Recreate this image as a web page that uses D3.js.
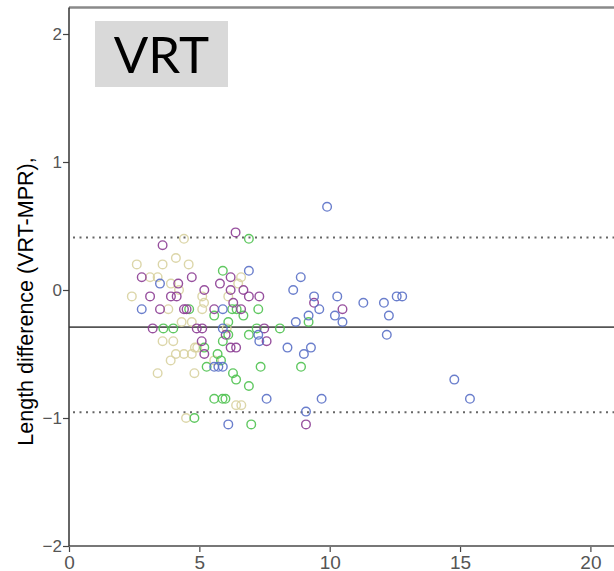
<!DOCTYPE html>
<html>
<head>
<meta charset="utf-8">
<script src="https://cdn.jsdelivr.net/npm/d3@7"></script>
<style>
  body { margin: 0; background: #fff; }
  svg { display: block; }
</style>
</head>
<body>
<script>
/* DATA */
// mean of the two methods (x) and difference VRT-MPR (y), one array per group
var blueX = [3.49, 2.79, 5.90, 6.90, 5.90, 7.26, 7.30, 5.57, 5.73, 5.90, 6.11, 8.89, 8.60, 9.40, 9.60, 8.70, 9.19, 10.29, 10.20, 10.49, 11.29, 12.08, 12.57, 12.78, 12.27, 12.19, 8.38, 9.28, 9.01, 7.58, 9.69, 9.09, 9.90, 14.78, 15.38];
var blueY = [0.05, -0.15, -0.15, 0.15, -0.30, -0.35, -0.40, -0.60, -0.60, -0.60, -1.05, 0.10, 0.00, -0.05, -0.15, -0.25, -0.20, -0.05, -0.20, -0.25, -0.10, -0.10, -0.05, -0.05, -0.20, -0.35, -0.45, -0.45, -0.50, -0.85, -0.85, -0.95, 0.65, -0.70, -0.85];

var purpleX = [6.39, 3.59, 2.79, 4.71, 6.20, 4.19, 5.79, 5.19, 6.20, 6.69, 3.11, 3.91, 4.13, 6.90, 7.30, 6.30, 3.49, 4.41, 4.51, 5.57, 6.60, 3.21, 4.90, 5.11, 6.01, 7.49, 5.09, 6.20, 6.41, 5.19, 7.58, 9.40, 10.49, 9.09];
var purpleY = [0.45, 0.35, 0.10, 0.10, 0.10, 0.05, 0.05, 0.00, 0.00, 0.00, -0.05, -0.05, -0.05, -0.05, -0.05, -0.10, -0.15, -0.15, -0.15, -0.15, -0.15, -0.30, -0.30, -0.30, -0.35, -0.30, -0.40, -0.45, -0.45, -0.50, -0.40, -0.10, -0.15, -1.05];

var greenX = [6.90, 5.90, 4.61, 6.26, 6.43, 7.26, 5.57, 6.69, 3.62, 4.00, 7.20, 8.09, 6.11, 6.90, 5.90, 5.19, 5.70, 5.83, 5.28, 7.35, 6.29, 6.41, 6.90, 5.57, 5.89, 6.00, 4.81, 6.99, 8.90, 9.19, 6.11];
var greenY = [0.40, 0.15, -0.15, -0.15, -0.15, -0.15, -0.20, -0.20, -0.30, -0.30, -0.30, -0.30, -0.35, -0.35, -0.40, -0.45, -0.50, -0.55, -0.60, -0.60, -0.65, -0.70, -0.75, -0.85, -0.85, -0.85, -1.00, -1.05, -0.60, -0.25, -0.25];

var khakiX = [4.41, 2.60, 3.59, 4.10, 4.59, 3.11, 3.40, 6.60, 3.91, 6.49, 4.22, 2.41, 5.11, 6.11, 5.18, 3.81, 5.11, 4.32, 4.71, 6.05, 3.59, 4.00, 4.83, 4.92, 4.10, 4.41, 4.71, 3.90, 5.57, 3.40, 4.81, 6.41, 6.61, 4.49];
var khakiY = [0.40, 0.20, 0.20, 0.25, 0.20, 0.10, 0.10, 0.10, 0.05, 0.05, 0.00, -0.05, -0.05, -0.05, -0.10, -0.15, -0.15, -0.25, -0.25, -0.30, -0.40, -0.40, -0.45, -0.45, -0.50, -0.50, -0.50, -0.55, -0.55, -0.65, -0.65, -0.90, -0.90, -1.00];

var meanDiff = -0.29;
var upperLoA = 0.41;
var lowerLoA = -0.955;

var xTicks = [0, 5, 10, 15, 20];
var yTicks = [-2, -1, 0, 1, 2];

/* CONSTANTS */
var width = 614, height = 571;
var plotLeft = 69, plotBottom = 546, plotTop = 34, frameTop = 7.5;

var x = d3.scaleLinear().domain([0, 22]).range([plotLeft, plotLeft + 26.07 * 22]);
var y = d3.scaleLinear().domain([-2, 2]).range([plotBottom, plotTop]);

var groups = [
  {xs: khakiX, ys: khakiY, color: "#d8d1a0"},
  {xs: greenX, ys: greenY, color: "#4fc250"},
  {xs: purpleX, ys: purpleY, color: "#8c3d94"},
  {xs: blueX, ys: blueY, color: "#5a70c6"}
];

var svg = d3.select("body").append("svg")
    .attr("width", width)
    .attr("height", height);

// frame: top line
svg.append("line")
    .attr("x1", plotLeft).attr("x2", width)
    .attr("y1", frameTop).attr("y2", frameTop)
    .attr("stroke", "#8a8a8a").attr("stroke-width", 2.5);

// reference lines
svg.append("line")
    .attr("x1", plotLeft).attr("x2", width)
    .attr("y1", y(meanDiff)).attr("y2", y(meanDiff))
    .attr("stroke", "#555").attr("stroke-width", 1.6);

[upperLoA, lowerLoA].forEach(function(v) {
  svg.append("line")
      .attr("x1", plotLeft + 4).attr("x2", width)
      .attr("y1", y(v)).attr("y2", y(v))
      .attr("stroke", "#666").attr("stroke-width", 2)
      .attr("stroke-dasharray", "2,4.5");
});

// points
groups.forEach(function(g) {
  svg.append("g").selectAll("circle")
    .data(g.xs.map(function(d, i) { return [d, g.ys[i]]; }))
    .enter().append("circle")
      .attr("cx", function(d) { return x(d[0]); })
      .attr("cy", function(d) { return y(d[1]); })
      .attr("r", 4.3)
      .attr("fill", "none")
      .attr("stroke", g.color)
      .attr("stroke-width", 1.4)
      .attr("stroke-opacity", 0.9);
});

// axes
var xAxis = svg.append("g")
    .attr("transform", "translate(0," + plotBottom + ")")
    .call(d3.axisBottom(x).tickValues(xTicks).tickSize(6).tickFormat(d3.format("d")));
xAxis.select(".domain").remove();
xAxis.append("line")
    .attr("x1", plotLeft).attr("x2", width)
    .attr("stroke", "#777").attr("stroke-width", 2.2);

var yAxis = svg.append("g")
    .attr("transform", "translate(" + plotLeft + ",0)")
    .call(d3.axisLeft(y).tickValues(yTicks).tickSize(6).tickFormat(d3.format("d")));
yAxis.select(".domain").remove();
yAxis.append("line")
    .attr("y1", frameTop).attr("y2", plotBottom)
    .attr("stroke", "#333").attr("stroke-width", 1.5);

svg.selectAll(".tick line").attr("stroke", "#444").attr("stroke-width", 1.2);
svg.selectAll(".tick text")
    .attr("fill", "#555")
    .style("font-family", "'Liberation Sans Narrow', 'Liberation Sans', Arial, sans-serif")
    .style("font-size", "17px");
xAxis.selectAll(".tick text").attr("y", 8).attr("dy", "0.8em").style("font-size", "19px");
yAxis.selectAll(".tick text").attr("x", -7);

// y axis label
svg.append("text")
    .attr("transform", "translate(33," + 301.5 + ") rotate(-90)")
    .style("text-anchor", "middle")
    .style("font-family", "'Liberation Sans', Arial, sans-serif")
    .style("font-size", "21.5px")
    .attr("fill", "#000")
    .text("Length difference (VRT-MPR),");

// title box
svg.append("rect")
    .attr("x", 95).attr("y", 21)
    .attr("width", 133).attr("height", 66)
    .attr("fill", "#d9d9d9");
svg.append("text")
    .attr("x", 161.5).attr("y", 73)
    .style("text-anchor", "middle")
    .style("font-family", "Lato, 'Open Sans', sans-serif")
    .style("font-size", "51px")
    .attr("fill", "#000")
    .text("VRT");
</script>
</body>
</html>
